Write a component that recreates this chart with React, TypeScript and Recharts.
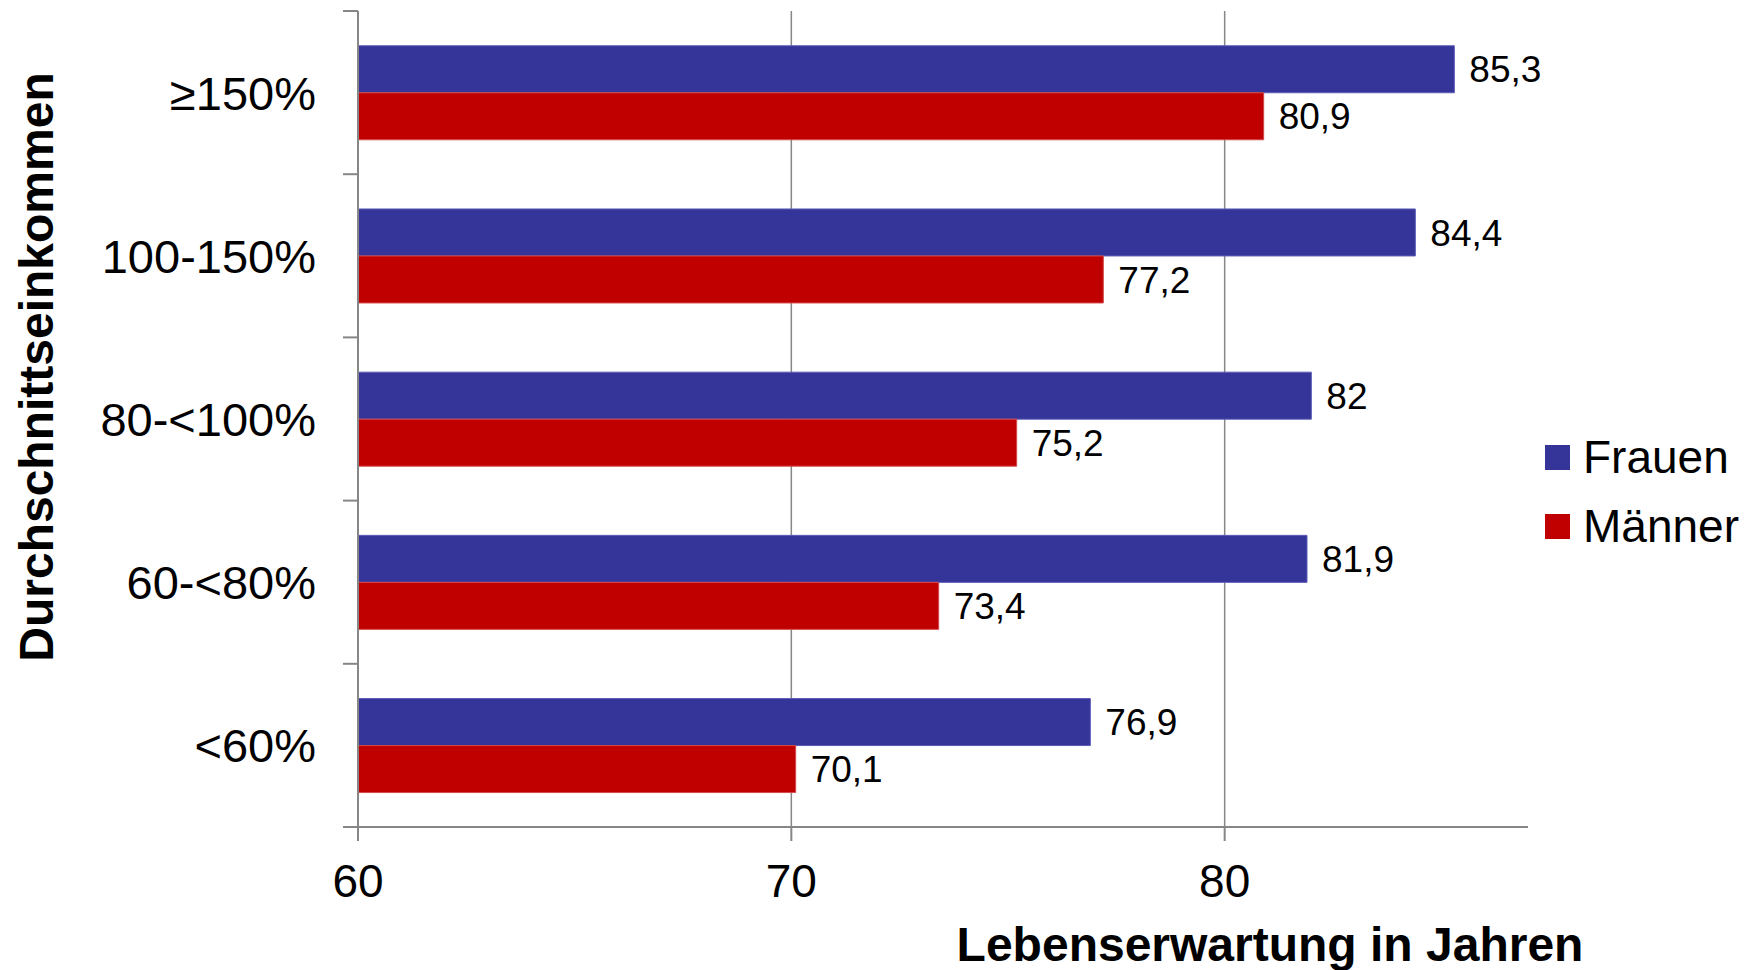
import React from "react";
import { BarChart, Bar, XAxis, YAxis, CartesianGrid, Legend, LabelList, Label } from "recharts";

// Lebenserwartung nach Einkommensgruppe
const categories = ["≥150%", "100-150%", "80-<100%", "60-<80%", "<60%"];
const frauen = [85.3, 84.4, 82, 81.9, 76.9];
const maenner = [80.9, 77.2, 75.2, 73.4, 70.1];
const xTicks = [60, 70, 80];
const xDomain = [60, 87];

const data = categories.map((group, i) => ({ group, frauen: frauen[i], maenner: maenner[i] }));

const W = 1755;
const H = 970;
const PLOT_LEFT = 358;
const PLOT_TOP = 11;
const PLOT_BOTTOM = 827;
const PLOT_RIGHT = 1528;
const BAND = (PLOT_BOTTOM - PLOT_TOP) / categories.length;

const FONT = '"Liberation Sans", Arial, sans-serif';
const AXIS = "#868686";
const BLUE = "#353599";
const RED = "#c00000";

const fmt = (v: any) => String(v).replace(".", ",");

function CategoryTick(props: any) {
  const { y, payload, index } = props;
  const last = index === categories.length - 1;
  return (
    <g>
      <line x1={PLOT_LEFT - 15} x2={PLOT_LEFT} y1={y - BAND / 2} y2={y - BAND / 2} stroke={AXIS} strokeWidth={2} />
      {last && (
        <line x1={PLOT_LEFT - 15} x2={PLOT_LEFT} y1={y + BAND / 2} y2={y + BAND / 2} stroke={AXIS} strokeWidth={2} />
      )}
      <text x={316} y={y} dy="0.36em" textAnchor="end" fontSize={47} fontFamily={FONT} fill="#000">
        {payload.value}
      </text>
    </g>
  );
}

function LegendBox() {
  const items = [
    { label: "Frauen", color: BLUE },
    { label: "Männer", color: RED },
  ];
  return (
    <div>
      {items.map((it) => (
        <div key={it.label} style={{ display: "flex", alignItems: "center", height: 69 }}>
          <div style={{ width: 25, height: 25, background: it.color, marginRight: 13 }} />
          <span style={{ fontSize: 46, fontFamily: FONT, color: "#000", lineHeight: "69px" }}>{it.label}</span>
        </div>
      ))}
    </div>
  );
}

export default function App() {
  return (
    <div style={{ position: "absolute", left: 0, top: 0, width: W, height: H, background: "#fff" }}>
      <BarChart
        width={W}
        height={H}
        data={data}
        layout="vertical"
        margin={{ top: PLOT_TOP, right: W - PLOT_RIGHT, bottom: 0, left: 0 }}
        barCategoryGap="21.3%"
        barGap={0}
      >
        <CartesianGrid horizontal={false} verticalValues={xTicks} stroke={AXIS} strokeWidth={1.5} />
        <XAxis
          type="number"
          domain={xDomain}
          ticks={xTicks}
          allowDataOverflow
          height={H - PLOT_BOTTOM}
          axisLine={{ stroke: AXIS, strokeWidth: 2 }}
          tickLine={{ stroke: AXIS, strokeWidth: 2 }}
          tickSize={14}
          tickMargin={23}
          tick={{ fontSize: 46, fontFamily: FONT, fill: "#000" }}
        >
          <Label
            content={() => (
              <text x={1270} y={961} textAnchor="middle" fontSize={48} fontWeight="bold" fontFamily={FONT} fill="#000">
                Lebenserwartung in Jahren
              </text>
            )}
          />
        </XAxis>
        <YAxis
          type="category"
          dataKey="group"
          width={PLOT_LEFT}
          axisLine={{ stroke: AXIS, strokeWidth: 2 }}
          tickLine={false}
          tick={<CategoryTick />}
          interval={0}
        >
          <Label
            content={() => (
              <text
                x={53}
                y={367}
                textAnchor="middle"
                fontSize={48}
                fontWeight="bold"
                fontFamily={FONT}
                fill="#000"
                transform="rotate(-90, 53, 367)"
              >
                Durchschnittseinkommen
              </text>
            )}
          />
        </YAxis>
        <Legend
          layout="horizontal"
          verticalAlign="middle"
          align="center"
          wrapperStyle={{ position: "absolute", left: 1545, top: 423, width: 210 }}
          content={() => <LegendBox />}
        />
        <Bar dataKey="frauen" name="Frauen" fill={BLUE} stroke="#5c5cb8" strokeWidth={1} isAnimationActive={false}>
          <LabelList dataKey="frauen" position="right" offset={15} formatter={fmt} fontSize={37} fontFamily={FONT} fill="#000" />
        </Bar>
        <Bar dataKey="maenner" name="Männer" fill={RED} stroke="#d44a4a" strokeWidth={1} isAnimationActive={false}>
          <LabelList dataKey="maenner" position="right" offset={15} formatter={fmt} fontSize={37} fontFamily={FONT} fill="#000" />
        </Bar>
      </BarChart>
    </div>
  );
}
